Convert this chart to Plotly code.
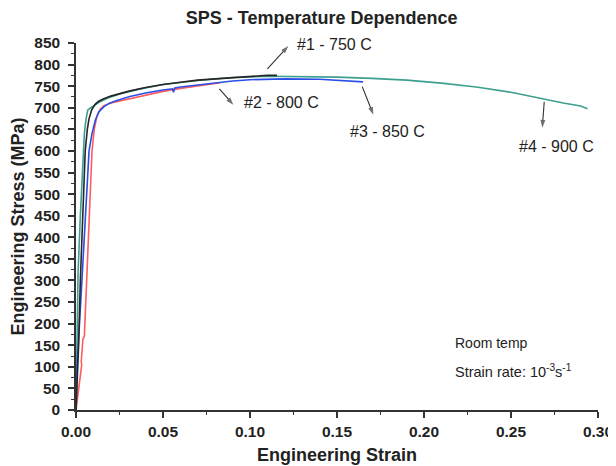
import plotly.graph_objects as go

# ---- data ----
strain_750 = [0, 0.0015, 0.0025, 0.004, 0.0053, 0.0065, 0.0075, 0.009, 0.011, 0.013, 0.016, 0.02, 0.03,
              0.04, 0.05, 0.06, 0.07, 0.08, 0.09, 0.10, 0.11, 0.1155]
stress_750 = [0, 150, 300, 450, 600, 650, 675, 695, 708, 715, 721, 727, 738,
              747, 754, 759, 764, 767, 770, 773, 775, 775]

strain_800 = [0, 0.002, 0.0033, 0.003, 0.004, 0.0048, 0.0063, 0.0075, 0.0092, 0.0105, 0.012, 0.014, 0.016,
              0.02, 0.03, 0.04, 0.05, 0.06, 0.07, 0.08, 0.083]
stress_800 = [0, 60, 105, 112, 165, 170, 320, 450, 600, 650, 680, 697, 705,
              711, 720, 730, 738, 745, 751, 756, 758]

strain_850 = [0, 0.0006, 0.0034, 0.0055, 0.0075, 0.0092, 0.011, 0.013, 0.0159, 0.019, 0.023, 0.031, 0.04,
              0.05, 0.0555, 0.056, 0.0568, 0.06, 0.07, 0.08, 0.09, 0.10, 0.12, 0.14, 0.155, 0.165]
stress_850 = [0, 100, 300, 450, 600, 640, 670, 690, 702, 710, 716, 726, 734,
              741, 744, 736, 746, 748, 753, 758, 762, 765, 767, 766, 763, 760]

strain_900 = [0, 0.0012, 0.0025, 0.004, 0.0048, 0.0058, 0.0068, 0.0085, 0.0101, 0.013, 0.018, 0.025, 0.035,
              0.05, 0.07, 0.09, 0.11, 0.13, 0.15, 0.17, 0.19, 0.21, 0.23, 0.25, 0.27, 0.28, 0.29, 0.294]
stress_900 = [0, 320, 450, 600, 640, 675, 695, 700, 704, 712, 722, 732, 742,
              754, 763, 770, 773, 772, 771, 768, 764, 757, 748, 736, 719, 711, 704, 698]

series = [
    ("#1 - 750 C", strain_750, stress_750, "#262626"),
    ("#2 - 800 C", strain_800, stress_800, "#ff5c5c"),
    ("#3 - 850 C", strain_850, stress_850, "#2b4fe6"),
    ("#4 - 900 C", strain_900, stress_900, "#3e9e90"),
]

# draw order: teal underneath
order = [3, 1, 2, 0]

x_ticks = [0.00, 0.05, 0.10, 0.15, 0.20, 0.25, 0.30]
x_tick_text = ["0.00", "0.05", "0.10", "0.15", "0.20", "0.25", "0.30"]
y_ticks = list(range(0, 851, 50))

# annotation labels: (text, tail_x, tail_y, head_x, head_y, label_x, label_y)
labels = [
    ("#1 - 750 C", 0.110, 790, 0.122, 843, 0.126, 846),
    ("#2 - 800 C", 0.0824, 744, 0.0904, 707, 0.0956, 712),
    ("#3 - 850 C", 0.1645, 749, 0.1709, 684, 0.1565, 646),
    ("#4 - 900 C", 0.2691, 714, 0.2680, 654, 0.2536, 611),
]

FONT = "Liberation Sans, Arial"

fig = go.Figure()
for i in order:
    name, xs, ys, col = series[i]
    fig.add_trace(go.Scatter(x=xs, y=ys, mode="lines", name=name,
                             line=dict(color=col, width=1.6), showlegend=False))

annotations = []
for text, tx, ty, hx, hy, lx, ly in labels:
    fig.add_trace(go.Scatter(x=[tx, hx], y=[ty, hy], mode="lines+markers", showlegend=False,
                             hoverinfo="skip",
                             line=dict(color="#333333", width=1.1),
                             marker=dict(symbol="arrow", size=[0, 8], angleref="previous",
                                         color="#333333", line=dict(width=0))))
    annotations.append(dict(x=lx, y=ly, xref="x", yref="y", text=text, showarrow=False,
                            xanchor="left", yanchor="middle",
                            font=dict(family=FONT, size=16, color="#222222")))

annotations.append(dict(x=0.2168, y=156, xref="x", yref="y", text="Room temp", showarrow=False,
                        xanchor="left", yanchor="middle",
                        font=dict(family=FONT, size=14, color="#222222")))
annotations.append(dict(x=0.2168, y=90, xref="x", yref="y",
                        text="Strain rate: 10<sup>-3</sup>s<sup>-1</sup>", showarrow=False,
                        xanchor="left", yanchor="middle",
                        font=dict(family=FONT, size=14.5, color="#222222")))

tick_font = dict(family=FONT, size=15.5, color="#222222", weight="bold")
title_font = dict(family=FONT, size=18, color="#222222", weight="bold")

# page body adds an 8px offset; the figure is sized to fit the window
fig.update_layout(
    width=608, height=458,
    margin=dict(l=68, r=18, t=35, b=56),
    paper_bgcolor="white", plot_bgcolor="white",
    title=dict(text="SPS - Temperature Dependence", x=0.516, xref="container", xanchor="center",
               y=0.978, yref="container", yanchor="middle",
               font=dict(family=FONT, size=18, color="#222222", weight="bold")),
    annotations=annotations,
    xaxis=dict(range=[0, 0.30], tickvals=x_ticks, ticktext=x_tick_text, automargin=False,
               showgrid=False, zeroline=False, showline=True, linecolor="#333333", linewidth=1.5,
               ticks="outside", ticklen=6, tickwidth=1.5, tickcolor="#333333",
               minor=dict(ticks="outside", ticklen=3, tickwidth=1.2, tickcolor="#333333", dtick=0.025),
               tickfont=tick_font, ticklabelstandoff=1,
               title=dict(text="Engineering Strain", font=title_font, standoff=9)),
    yaxis=dict(range=[0, 850], tickvals=y_ticks, automargin=False,
               showgrid=False, zeroline=False, showline=True, linecolor="#333333", linewidth=1.5,
               ticks="outside", ticklen=6, tickwidth=1.5, tickcolor="#333333",
               minor=dict(ticks="outside", ticklen=3, tickwidth=1.2, tickcolor="#333333", dtick=25),
               tickfont=tick_font, ticklabelstandoff=5,
               title=dict(text="Engineering Stress (MPa)", font=title_font, standoff=6)),
)

fig.write_html("out.html")
